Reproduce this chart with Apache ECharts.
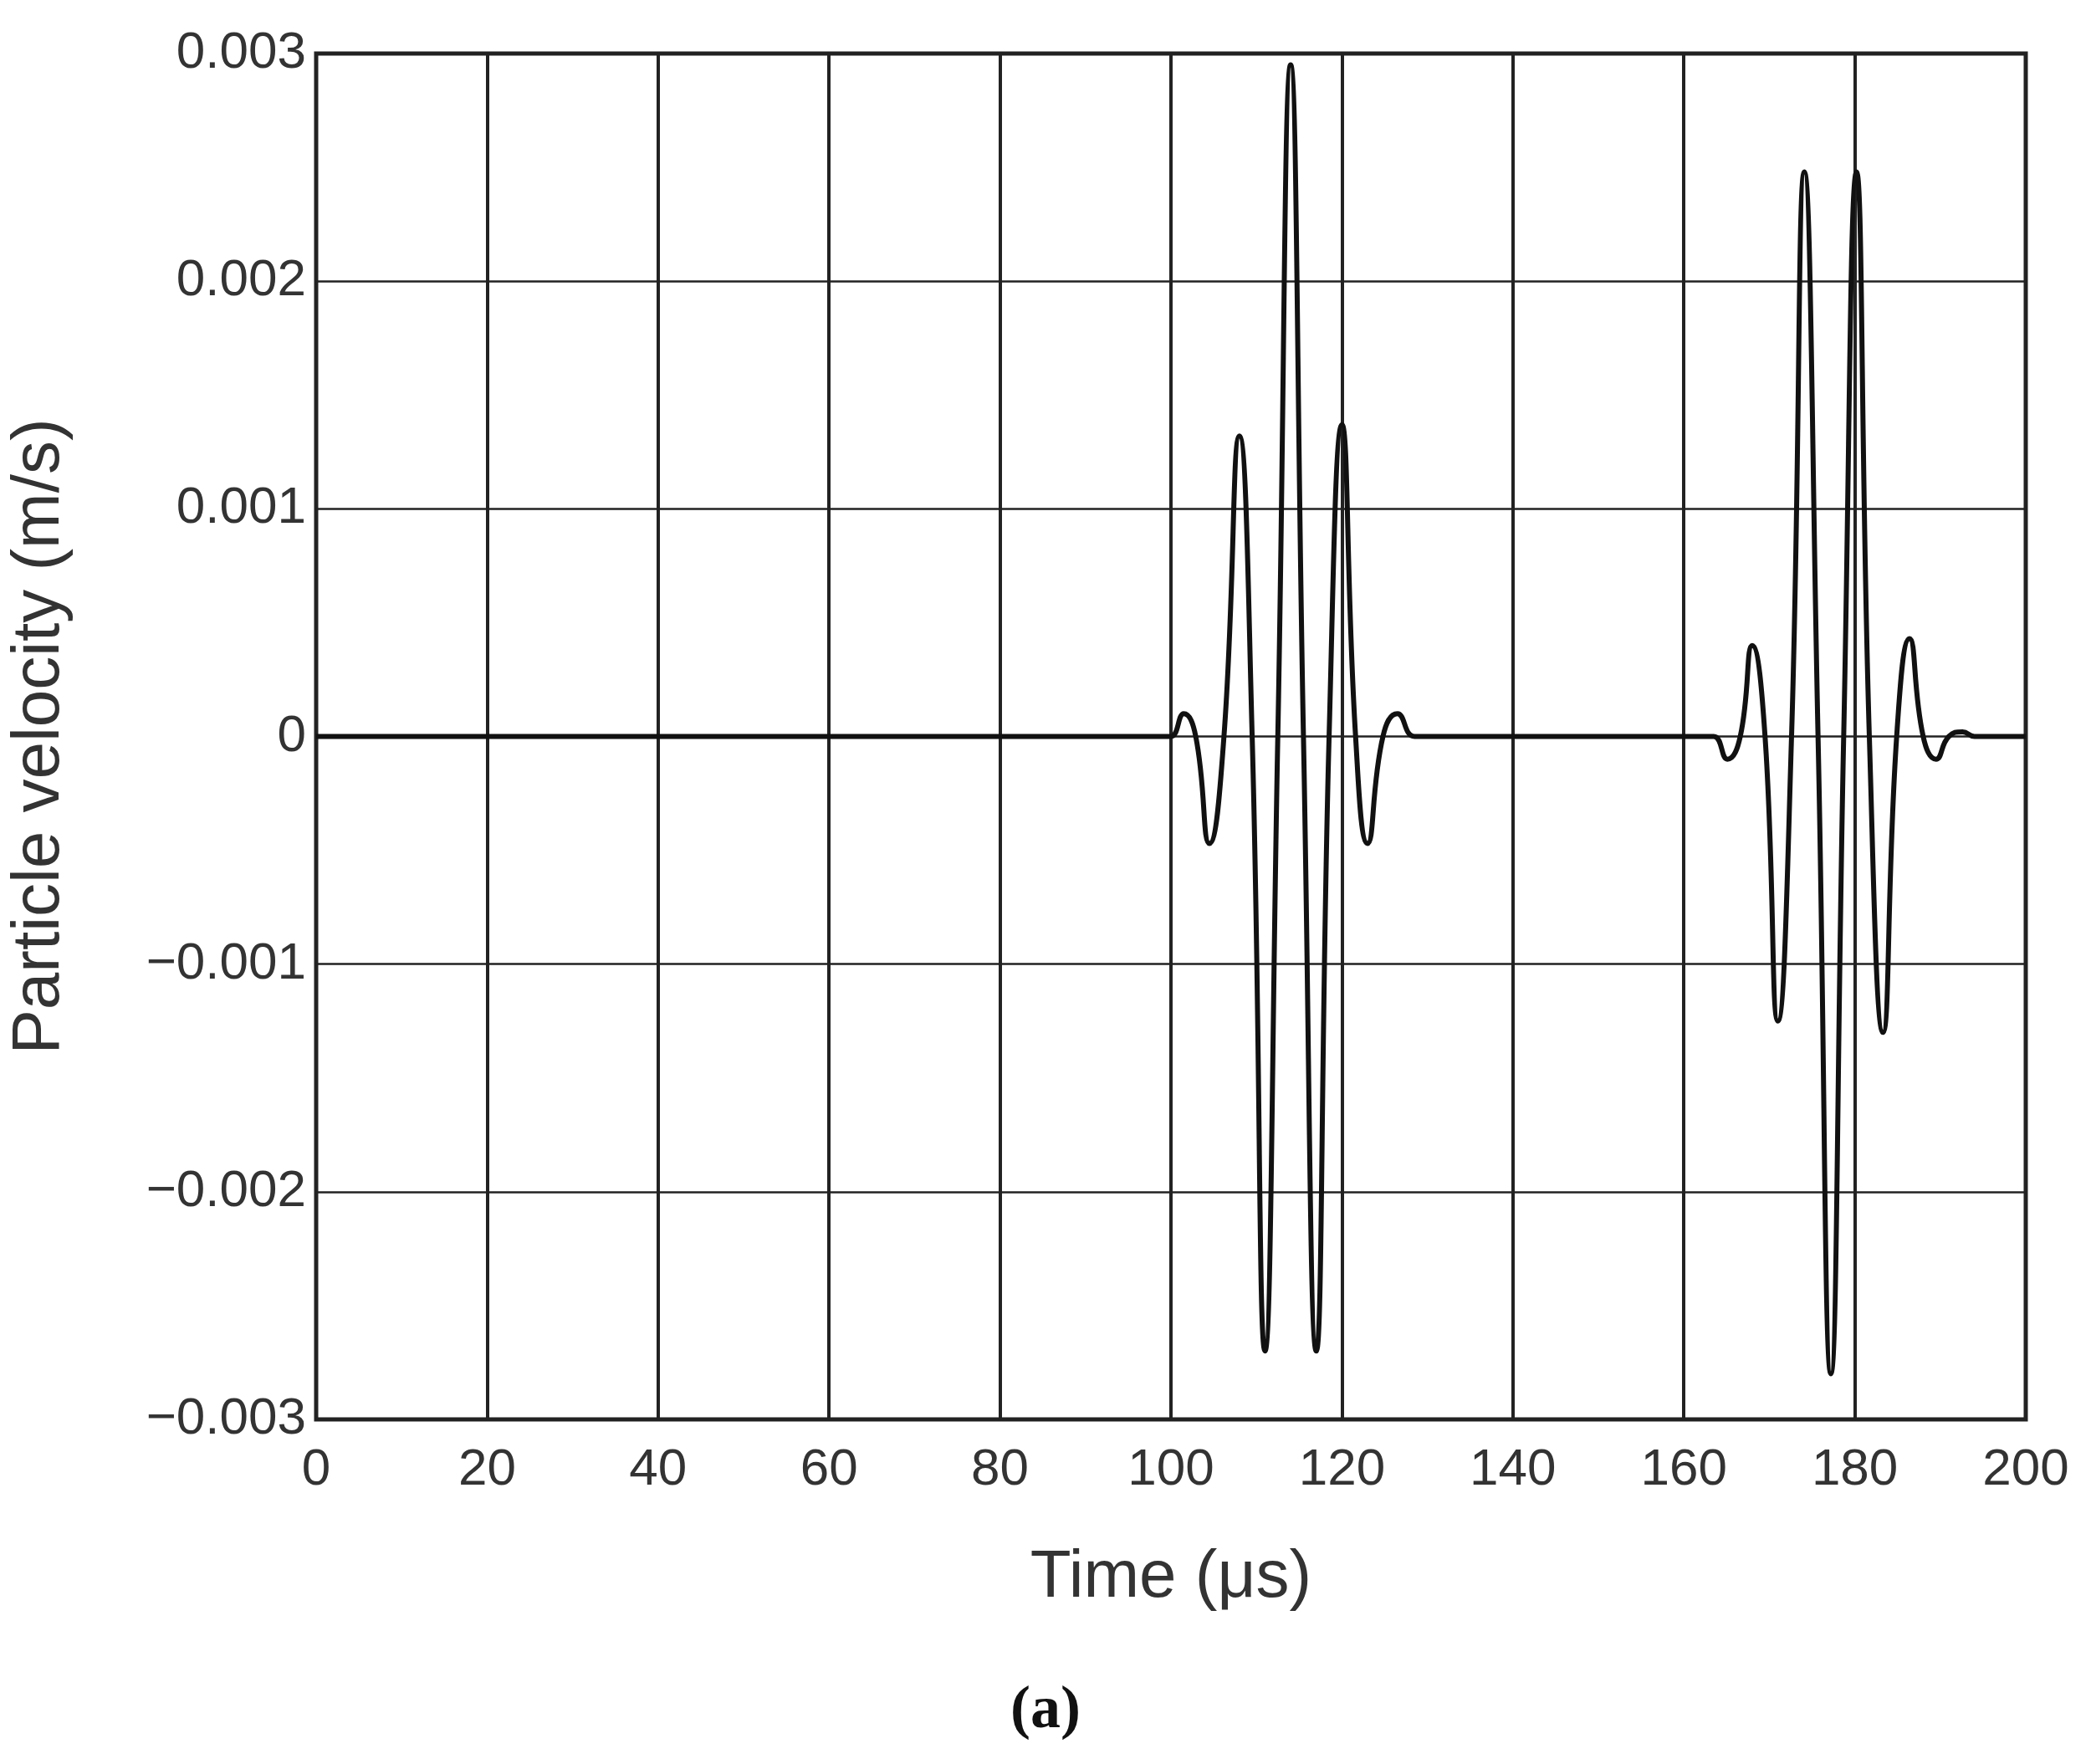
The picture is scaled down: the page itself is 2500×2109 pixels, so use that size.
<!DOCTYPE html>
<html><head><meta charset="utf-8">
<script src="https://cdn.jsdelivr.net/npm/echarts@6/dist/echarts.min.js"></script>
<style>html,body{margin:0;background:#fff}#c{width:2500px;height:2109px}</style>
</head><body><div id="c"></div>
<script>
const xTicks = [0,20,40,60,80,100,120,140,160,180,200];
const yTickLabels = {'0.003':'0.003','0.002':'0.002','0.001':'0.001','0':'0','-0.001':'\u22120.001','-0.002':'\u22120.002','-0.003':'\u22120.003'};
const time = [0,99,100,101.5,102.9,104.5,106.2,108,109.5,111,112.5,114,115.5,117,118.5,120,121.6,123,124.8,126.5,128.5,131,162,163.5,165.1,166.6,168,169.5,171,172.6,174.1,175.7,177.2,178.7,180.2,181.7,183.3,184.9,186.4,188,189.5,191,192.6,194,200];
const velocity = [0,0,0,0.0001,0,-0.00047,0,0.00132,0,-0.0027,0,0.00295,0,-0.0027,0,0.00137,0,-0.00047,0,0.0001,0,0,0,0,-0.0001,0,0.0004,0,-0.00125,0,0.00248,0,-0.0028,0,0.00248,0,-0.0013,0,0.00043,0,-0.0001,0,0.00002,0,0];
const chart = echarts.init(document.getElementById('c'));
const font = 'Liberation Sans, Arial, sans-serif';
chart.setOption({
  animation:false,
  grid:{left:355,right:78,top:64,bottom:412,show:true,borderColor:'#222',borderWidth:5},
  xAxis:{type:'value',min:0,max:200,interval:20,
    name:'Time (\u03bcs)',nameLocation:'middle',nameGap:150,
    nameTextStyle:{fontSize:80,color:'#333',fontFamily:font},
    axisLine:{show:false},axisTick:{show:false},
    axisLabel:{fontSize:62,color:'#333',fontFamily:font,margin:30},
    splitLine:{lineStyle:{color:'#222',width:4}}},
  yAxis:{type:'value',min:-0.003,max:0.003,interval:0.001,
    name:'Particle velocity (m/s)',nameLocation:'middle',nameGap:290,
    nameTextStyle:{fontSize:80,color:'#333',fontFamily:font},
    axisLine:{show:false},axisTick:{show:false},
    axisLabel:{fontSize:62,color:'#333',fontFamily:font,margin:12,
      formatter:v=>yTickLabels[String(Math.round(v*1000)/1000)] ?? v},
    splitLine:{lineStyle:{color:'#222',width:2.5}}},
  graphic:[{type:'text',left:'center',top:2010,
    style:{text:'(a)',font:'bold 72px "Liberation Serif", serif',fill:'#111'}}],
  series:[{type:'line',data:time.map((t,i)=>[t,velocity[i]]),
    smooth:0.5,showSymbol:false,lineStyle:{color:'#111',width:6}}]
});
</script></body></html>
